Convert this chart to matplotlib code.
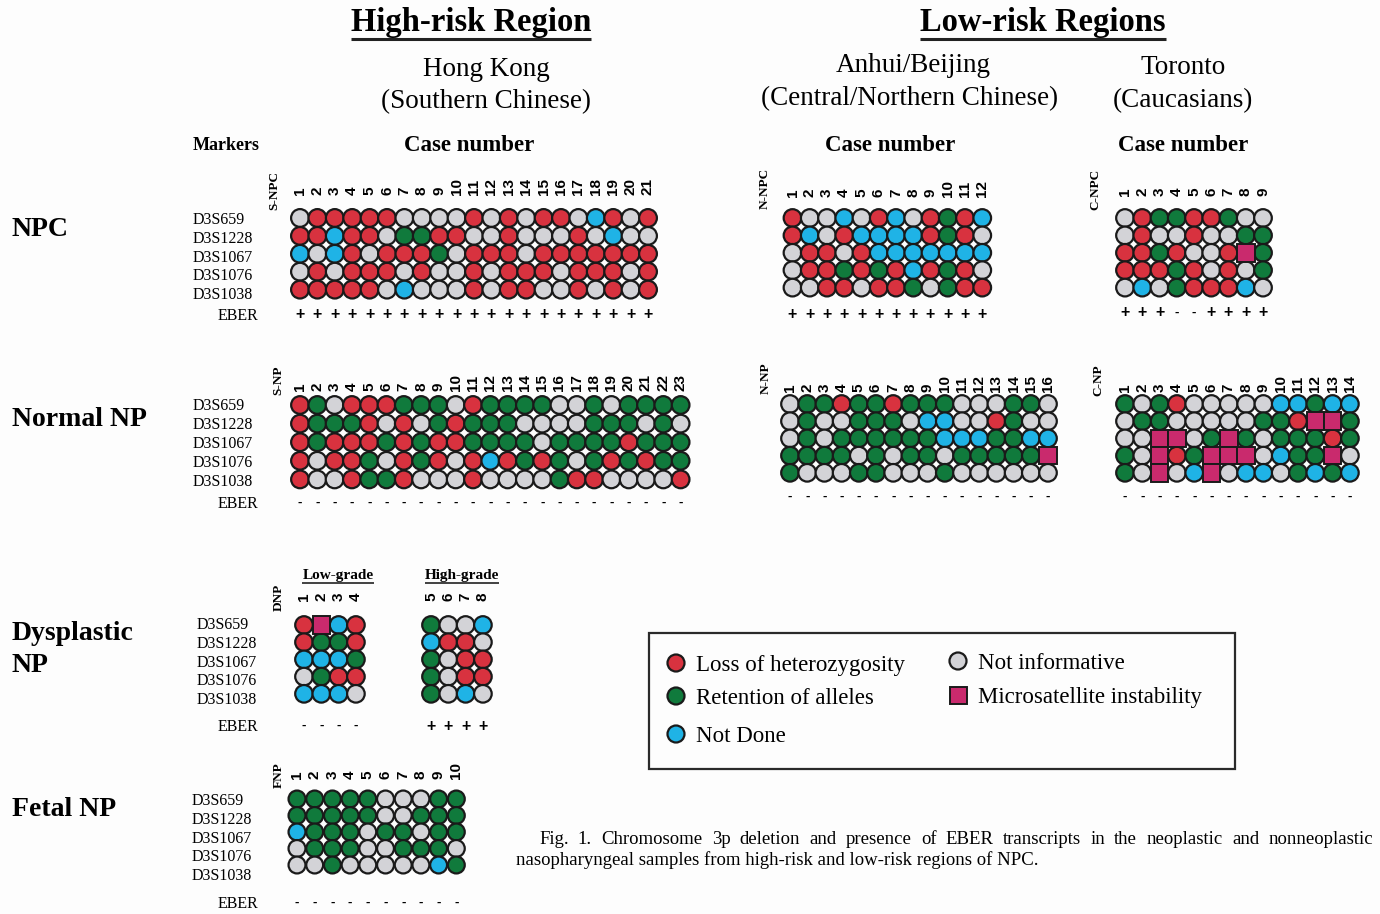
import matplotlib
matplotlib.use('Agg')
import matplotlib.pyplot as plt
from matplotlib.patches import Circle, Rectangle

# L = loss of heterozygosity, R = retention of alleles, N = not done,
# I = not informative, M = microsatellite instability
MARKERS = ['D3S659', 'D3S1228', 'D3S1067', 'D3S1076', 'D3S1038']

S_NPC = ['ILLLLLIIIILILILLINLIL',
         'LLNLLIRRLLIILIIILINII',
         'NINLILLLRILLLILLLLLLL',
         'ILILLLILIILILLLILLLIL',
         'LLLLLINIIILILLIILILIL']
S_NPC_EBER = '+' * 21

N_NPC = ['LIINILNILRLN',
         'LNILNNNNLRLI',
         'ILLILNNNNNNN',
         'ILLRLRLNLRLI',
         'IILLILLRIRLL']
N_NPC_EBER = '+' * 12

C_NPC = ['ILRRLLRII',
         'ILIILIIRR',
         'LLRLIILMR',
         'LLLRLILIR',
         'INIRLLLNI']
C_NPC_EBER = '+++--++++'

S_NP = ['LRILLLRRRILRRRRIIRIRRRR',
        'LRRRLILIRLRRRIIIIRRRIRI',
        'LRLLLRLRLLRRRRIRRRRLRRR',
        'LILLRILRLILNLRLRIRLRLRR',
        'LIILRRLIIILIIIIRLLIIIIL']
S_NP_EBER = '-' * 23

N_NP = ['IRRLRRLRRRIIIRRI',
        'IRIIRRRINNIILRII',
        'IRIRRRRRRNNNRRNN',
        'RRRRIRIRRIRRRRRM',
        'RIIIRRIIIRIIIIII']
N_NP_EBER = '-' * 16

C_NP = ['RIRLIIIIINNRNN',
        'IRRIIIIIRRLMMR',
        'IIMMIRMRIRRRLR',
        'RIMLRMMMINRRMI',
        'RIMINMINNIRNRN']
C_NP_EBER = '-' * 14

DNP_LOW = ['LMNL',
           'LRRL',
           'NNNR',
           'IRLL',
           'NNNI']
DNP_LOW_EBER = '----'

DNP_HIGH = ['RIIN',
            'NLLI',
            'RILL',
            'RILL',
            'RINI']
DNP_HIGH_EBER = '++++'

FNP = ['RRRRRIIIRR',
       'RRRRRIIRRR',
       'NRRRIRRIRR',
       'IRRRIIRRRI',
       'IIRIIIIINR']
FNP_EBER = '-' * 10

COLORS = {'L': '#d8323f', 'R': '#107a3c', 'N': '#1fb3e6',
          'I': '#d3d3d7', 'M': '#c92a6d'}
EDGE = '#1a1a1a'
SERIF = 'Liberation Serif'
SANS = 'Liberation Sans'

fig = plt.figure(figsize=(13.8, 9.14), dpi=100)
fig.patch.set_facecolor('#fdfdfd')
ax = fig.add_axes([0, 0, 1, 1])
ax.set_xlim(0, 1380)
ax.set_ylim(914, 0)
ax.axis('off')


def cell(x, y, code, d):
    if code == 'M':
        ax.add_patch(Rectangle((x - d / 2, y - d / 2), d, d, facecolor=COLORS['M'],
                               edgecolor=EDGE, lw=1.4, zorder=3))
    else:
        ax.add_patch(Circle((x, y), d / 2, facecolor=COLORS[code],
                            edgecolor=EDGE, lw=1.6, zorder=2))


def draw_grid(rows, eber, first_num, x0, y0, dx, dy, num_y, eber_y, tag=None, tag_x=None, tag_y=None):
    d = min(dx, dy) + 0.4
    for r, row in enumerate(rows):
        for c, code in enumerate(row):
            cell(x0 + c * dx, y0 + r * dy, code, d)
    for c in range(len(rows[0])):
        ax.text(x0 + c * dx, num_y, str(first_num + c), rotation=90, ha='center', va='bottom',
                fontsize=11, fontweight='bold', family=SANS)
    for c, s in enumerate(eber):
        ax.text(x0 + c * dx, eber_y, s, ha='center', va='center',
                fontsize=11.5 if s == '+' else 9.5, fontweight='bold', family=SANS)
    if tag:
        ax.text(tag_x, tag_y, tag, rotation=90, ha='center', va='center',
                fontsize=9.5, fontweight='bold', family=SERIF)


def marker_labels(x, y0, dy, eber_y):
    for i, m in enumerate(MARKERS):
        ax.text(x, y0 + i * dy, m, ha='left', va='center_baseline', fontsize=11.5, family=SERIF)
    ax.text(258, eber_y, 'EBER', ha='right', va='center_baseline', fontsize=11.5, family=SERIF)


# grids
draw_grid(S_NPC, S_NPC_EBER, 1, 300, 218, 17.4, 17.9, 195, 315, 'S-NPC', 274, 190)
draw_grid(N_NPC, N_NPC_EBER, 1, 792.5, 218, 17.25, 17.4, 197, 314, 'N-NPC', 765, 188)
draw_grid(C_NPC, C_NPC_EBER, 1, 1125, 218, 17.25, 17.4, 196, 313, 'C-NPC', 1095, 189)
draw_grid(S_NP, S_NP_EBER, 1, 300, 405, 17.3, 18.6, 391, 503, 'S-NP', 278, 380)
draw_grid(N_NP, N_NP_EBER, 1, 790, 404, 17.2, 17.2, 392, 497, 'N-NP', 766, 378)
draw_grid(C_NP, C_NP_EBER, 1, 1125, 404, 17.3, 17.2, 392, 497, 'C-NP', 1098, 380)
draw_grid(DNP_LOW, DNP_LOW_EBER, 1, 304, 625, 17.3, 17.2, 601, 726, 'DNP', 279, 597)
draw_grid(DNP_HIGH, DNP_HIGH_EBER, 5, 431, 625, 17.3, 17.2, 601, 726)
draw_grid(FNP, FNP_EBER, 1, 297, 799, 17.7, 16.5, 779, 903, 'FNP', 279, 775)

marker_labels(193, 218, 18.8, 314)
marker_labels(193, 404, 18.9, 502)
marker_labels(197, 623, 18.8, 725)
marker_labels(192, 799, 18.8, 902)

# row group labels
for txt, y in [('NPC', 227), ('Normal NP', 416), ('Dysplastic', 631), ('NP', 663), ('Fetal NP', 807)]:
    ax.text(12, y, txt, ha='left', va='center_baseline', fontsize=20, fontweight='bold', family=SERIF)

# headers
underlined = []
underlined.append(ax.text(471, 19, 'High-risk Region', ha='center', va='center_baseline',
                          fontsize=23.5, fontweight='bold', family=SERIF))
underlined.append(ax.text(1043, 19, 'Low-risk Regions', ha='center', va='center_baseline',
                          fontsize=23.5, fontweight='bold', family=SERIF))
for txt, x, y in [('Hong Kong', 486, 66), ('(Southern Chinese)', 486, 99),
                  ('Anhui/Beijing', 913, 63), ('(Central/Northern Chinese)', 910, 96),
                  ('Toronto', 1183, 65), ('(Caucasians)', 1183, 98)]:
    ax.text(x, y, txt, ha='center', va='center_baseline', fontsize=19.5, family=SERIF)
for x in [469, 890, 1183]:
    ax.text(x, 143, 'Case number', ha='center', va='center_baseline', fontsize=16.5,
            fontweight='bold', family=SERIF)
ax.text(193, 144, 'Markers', ha='left', va='center_baseline', fontsize=13, fontweight='bold', family=SERIF)
underlined.append(ax.text(338, 574, 'Low-grade', ha='center', va='center_baseline', fontsize=11,
                          fontweight='bold', family=SERIF))
underlined.append(ax.text(462, 574, 'High-grade', ha='center', va='center_baseline', fontsize=11,
                          fontweight='bold', family=SERIF))

# legend
ax.add_patch(Rectangle((649, 633), 586, 136, fill=False, edgecolor='#2a2a2a', lw=1.6))
legend_items = [('L', 'Loss of heterozygosity', 676, 663), ('R', 'Retention of alleles', 676, 696),
                ('N', 'Not Done', 676, 734), ('I', 'Not informative', 958, 661),
                ('M', 'Microsatellite instability', 958, 695)]
for code, label, x, y in legend_items:
    cell(x, y, code, 17)
    ax.text(x + 20, y, label, ha='left', va='center_baseline', fontsize=16.5, family=SERIF)

fig.canvas.draw()
renderer = fig.canvas.get_renderer()
inv = ax.transData.inverted()

for t in underlined:
    bb = t.get_window_extent(renderer)
    (x1, y1), (x2, y2) = inv.transform([[bb.x0, bb.y0], [bb.x1, bb.y1]])
    lw = 2.2 if t.get_fontsize() > 20 else 1.2
    ax.plot([x1, x2], [y1 + 1, y1 + 1], color='#222', lw=lw, solid_capstyle='butt')

# caption, first line justified
line1 = 'Fig. 1. Chromosome 3p deletion and presence of EBER transcripts in the neoplastic and nonneoplastic'
line2 = 'nasopharyngeal samples from high-risk and low-risk regions of NPC.'
words = line1.split()
objs = [ax.text(0, 837, w, ha='left', va='center_baseline', fontsize=13.5, family=SERIF) for w in words]
widths = []
for o in objs:
    bb = o.get_window_extent(renderer)
    widths.append(inv.transform([[bb.x1, 0]])[0][0] - inv.transform([[bb.x0, 0]])[0][0])
gap = (1373 - 539 - sum(widths)) / (len(words) - 1)
x = 539
for o, w in zip(objs, widths):
    o.set_x(x)
    x += w + gap
ax.text(516, 858, line2, ha='left', va='center_baseline', fontsize=13.5, family=SERIF)

fig.savefig('out.png', dpi=100, facecolor=fig.get_facecolor())
